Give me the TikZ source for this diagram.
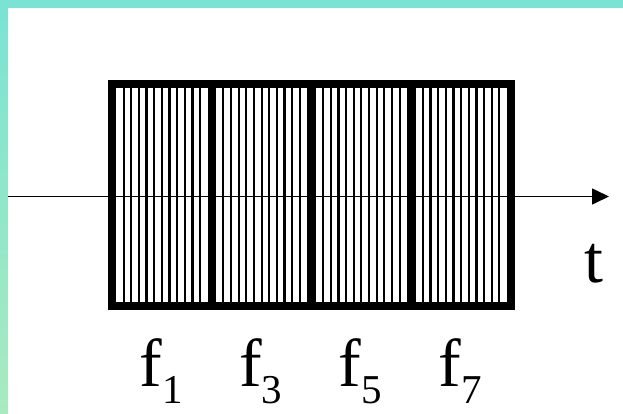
\documentclass[tikz,border=0pt]{standalone}
\usepackage{fontspec}
\setmainfont{Liberation Serif}
\usetikzlibrary{arrows.meta,positioning}
\definecolor{bandtop}{HTML}{7BE3D3}
\definecolor{bandbot}{HTML}{A9EAC0}
\newcommand{\flab}[1]{f\raisebox{-17pt}{\fontsize{41}{41}\selectfont #1}}
\tikzset{
  bigtext/.style={font=\fontsize{68}{80}\selectfont, inner sep=0pt, anchor=base},
  slot/.style={line width=2.2pt},
  frame/.style={line width=8.5pt}
}

\begin{document}
\begin{tikzpicture}[x=1pt, y=1pt, >={Triangle[length=17pt,width=16pt]}]
  \useasboundingbox (0,0) rectangle (623,413);
  % 背景与边条
  \fill[white] (0,0) rectangle (623,413);
  \fill[bandtop] (0,405) rectangle (623,413);
  \shade[top color=bandtop, bottom color=bandbot] (0,0) rectangle (8,405);

  % 四个频段，每段细线
  \foreach \i in {0,...,3} {
    \foreach \k in {1,...,11}
      \draw[slot] ({116+\i*99.75+\k*91.75/12},111) -- ++(0,214);
  }
  \draw[frame] (112,107) rectangle (511,329);
  \foreach \i in {1,2,3}
    \draw[frame] ({112+\i*99.75},107) -- ++(0,222);

  % 时间轴
  \coordinate (tstart) at (8,216.5);
  \coordinate (tend) at (609,216.5);
  \draw[->, line width=1.6pt] (tstart) -- (tend);
  \node[bigtext] (tlab) at (594,131) {t};

  % 频率标号
  \foreach \n [count=\i from 0] in {1,3,5,7}
    \node[bigtext] (f\n) at ({161+\i*99.75},27) {\flab{\n}};
\end{tikzpicture}
\end{document}
